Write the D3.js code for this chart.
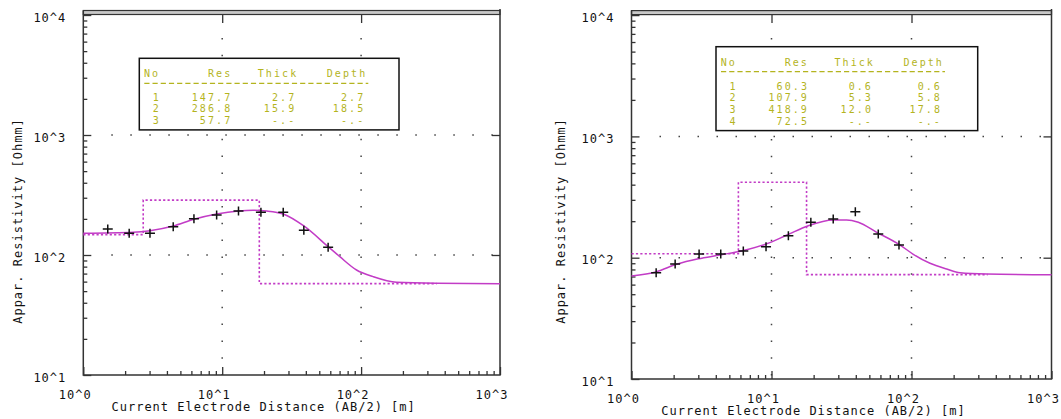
<!DOCTYPE html>
<meta charset="utf-8">
<script src="https://d3js.org/d3.v7.min.js"></script>
<style>
  body { margin: 0; background: #fff; }
  svg text { font-family: "DejaVu Sans Mono", "Liberation Mono", monospace; font-size: 12px; letter-spacing: 1px; }
  svg text.tbl { font-size: 10px; letter-spacing: 2.1px; }
</style>
<div id="chart"></div>
<script>

  // sounding 1 - measured points
  var ab1  = [1.5, 2.14, 3.02, 4.44, 6.26, 9.12, 13.1, 19.0, 27.5, 38.7, 57.9];
  var rho1 = [164.7, 151.6, 151.6, 172, 200.7, 215, 232.6, 227, 227, 160.6, 115.9];
  // sounding 1 - calculated curve
  var curveAb1  = [1, 2.29, 3.02, 4.44, 6.26, 9.12, 13.1, 16.7, 20.9, 27.5, 38.7, 57.9, 70.3, 92.7, 122, 180, 349, 1000];
  var curveRho1 = [151.6, 154.6, 159.4, 174.5, 198.4, 219.6, 232.6, 235.8, 232.6, 219.6, 174.5, 117.3, 96.8, 75, 66, 59.2, 58.1, 57.7];
  // sounding 1 - layer model
  var res1   = [147.7, 286.8, 57.7];
  var thick1 = ["2.7", "15.9", "-.-"];
  var depth1 = [2.7, 18.5];
  var modelEnd1 = 350;

  // sounding 2 - measured points
  var ab2  = [1.5, 2.05, 3.04, 4.34, 6.29, 9.14, 13.2, 19.1, 27.6, 39.7, 57.9, 81.4];
  var rho2 = [75.2, 88.7, 107.3, 107.3, 113.6, 123.2, 151.9, 195.8, 208.5, 239.4, 156.8, 127.2];
  // sounding 2 - calculated curve
  var curveAb2  = [1, 1.51, 2.1, 3.0, 4.29, 6.29, 8.97, 12.9, 18.3, 27.6, 34.4, 41.7, 56.4, 82.8, 103, 135.6, 178.3, 222, 344, 1000];
  var curveRho2 = [70.6, 76.7, 88.3, 97.9, 105.3, 114.6, 128.5, 153.8, 183.6, 204.6, 204.6, 195.7, 162, 127.2, 106.7, 89.9, 80.7, 75.2, 73.4, 72.5];
  // sounding 2 - layer model
  var res2   = [60.3, 107.9, 418.9, 72.5];
  var thick2 = ["0.6", "5.3", "12.0", "-.-"];
  var depth2 = [0.6, 5.8, 17.8];
  var modelEnd2 = 350;

  // axis tick labels
  var xMajor = [1, 10, 100, 1000];
  var yMajor = [10, 100, 1000, 10000];
  var xLabels = ["10^0", "10^1", "10^2", "10^3"];
  var yLabels = ["10^1", "10^2", "10^3", "10^4"];
  var tableHead = ["No", "Res", "Thick", "Depth"];

  var magenta = "#c23cc6", olive = "#b4b41e", axisCol = "#333";

  var svg = d3.select("#chart").append("svg")
      .attr("width", 1061)
      .attr("height", 419);

  var panels = [
    { ab: ab1, rho: rho1, cab: curveAb1, crho: curveRho1, res: res1, thick: thick1, depth: depth1, end: modelEnd1,
      xr: [83.3, 500], yr: [375, 15], yLab: 18, box: {x: 139.3, y: 58.3, w: 259.7, head: 77, dash: 83.3, row0: 100.5} },
    { ab: ab2, rho: rho2, cab: curveAb2, crho: curveRho2, res: res2, thick: thick2, depth: depth2, end: modelEnd2,
      xr: [631.5, 1051.5], yr: [379, 15.1], yLab: 561, box: {x: 716, y: 46.7, w: 261.7, head: 65.7, dash: 71.7, row0: 89.5} }
  ];

  function minors(lo, hi) {
    var out = [];
    for (var d = lo; d < hi; d *= 10)
      for (var k = 2; k <= 9; k++) out.push(d * k);
    return out;
  }

  panels.forEach(function(p) {
    var x = d3.scaleLog().domain([1, 1000]).range(p.xr);
    var y = d3.scaleLog().domain([10, 10000]).range(p.yr);
    var x0 = p.xr[0], x1 = p.xr[1], top = p.yr[1], bot = p.yr[0];
    var g = svg.append("g");

    // dotted grid at the inner decades
    [10, 100].forEach(function(v) {
      g.append("line")
        .attr("x1", x(v)).attr("x2", x(v)).attr("y1", top + 23).attr("y2", bot)
        .attr("stroke", "#444").attr("stroke-width", 1.5)
        .attr("stroke-dasharray", "1.5,15.3");
    });
    [100, 1000].forEach(function(v) {
      g.append("line")
        .attr("x1", x0 + 28).attr("x2", x1).attr("y1", y(v)).attr("y2", y(v))
        .attr("stroke", "#444").attr("stroke-width", 1.5)
        .attr("stroke-dasharray", "1.5,17.5");
    });

    // axes (ticks pointing inward)
    var bottomAx = g.append("g").attr("transform", "translate(0," + bot + ")")
      .call(d3.axisBottom(x).tickValues(xMajor).tickSize(-8).tickPadding(15)
        .tickFormat(function(d, i) { return xLabels[i]; }));
    bottomAx.selectAll("text").attr("dx", -8.5).attr("fill", "#111");
    g.append("g").attr("transform", "translate(0," + bot + ")")
      .call(d3.axisBottom(x).tickValues(minors(1, 1000)).tickSize(-4).tickFormat(""));

    var leftAx = g.append("g").attr("transform", "translate(" + x0 + ",0)")
      .call(d3.axisLeft(y).tickValues(yMajor).tickSize(-8).tickPadding(17)
        .tickFormat(function(d, i) { return yLabels[i]; }));
    leftAx.selectAll("text").attr("dy", "0.5em").attr("fill", "#111");
    g.append("g").attr("transform", "translate(" + x0 + ",0)")
      .call(d3.axisLeft(y).tickValues(minors(10, 10000)).tickSize(-4).tickFormat(""));

    g.append("g").attr("transform", "translate(0," + top + ")")
      .call(d3.axisTop(x).tickValues([10, 100]).tickSize(-8).tickFormat(""));
    g.append("g").attr("transform", "translate(" + x1 + ",0)")
      .call(d3.axisRight(y).tickValues([100, 1000]).tickSize(-8).tickFormat(""));

    g.selectAll(".domain").remove();
    g.selectAll(".tick line").attr("stroke", axisCol).attr("stroke-width", 1.3);
    g.selectAll(".tick text").style("font-size", "12px");

    // frame
    g.append("rect")
      .attr("x", x0).attr("y", top - 4.5).attr("width", x1 - x0).attr("height", 4)
      .attr("fill", "#c8c8c8").attr("stroke", axisCol).attr("stroke-width", 1.2);
    g.append("path")
      .attr("d", "M" + x0 + "," + (top - 4.5) + "V" + bot + "H" + x1 + "V" + (top - 6))
      .attr("fill", "none").attr("stroke", axisCol).attr("stroke-width", 1.5);

    // axis titles
    g.append("text")
      .attr("x", (x0 + x1) / 2 - 28).attr("y", bot + 36)
      .attr("text-anchor", "middle").attr("fill", "#111")
      .text("Current Electrode Distance (AB/2) [m]");
    g.append("text")
      .attr("transform", "translate(" + (p.yLab + 4) + "," + 221 + ")rotate(-90)")
      .attr("text-anchor", "middle").attr("fill", "#111")
      .text("Appar. Resistivity [Ohmm]");

    // layer table
    var b = p.box, n = p.res.length, rowH = 11.7;
    var boxH = (b.row0 - b.y) + (n - 1) * rowH + 6;
    g.append("rect")
      .attr("x", b.x).attr("y", b.y).attr("width", b.w).attr("height", boxH)
      .attr("fill", "#fff").attr("stroke", "#111").attr("stroke-width", 1.5);
    var colEnd = [null, 91, 157, 226];
    tableHead.forEach(function(h, i) {
      g.append("text").attr("class", "tbl")
        .attr("x", i === 0 ? b.x + 4.7 : b.x + colEnd[i] + 2)
        .attr("y", b.head)
        .attr("text-anchor", i === 0 ? "start" : "end")
        .attr("fill", olive).text(h);
    });
    g.append("line")
      .attr("x1", b.x + 5).attr("x2", b.x + 229)
      .attr("y1", b.dash).attr("y2", b.dash)
      .attr("stroke", olive).attr("stroke-width", 1.3)
      .attr("stroke-dasharray", "5.2,3");
    p.res.forEach(function(r, i) {
      var yy = b.row0 + i * rowH;
      var dep = i < p.depth.length ? p.depth[i].toFixed(1) : "-.-";
      var cells = [String(i + 1), r.toFixed(1), p.thick[i], dep];
      cells.forEach(function(c, j) {
        g.append("text").attr("class", "tbl")
          .attr("x", j === 0 ? b.x + 13.5 : b.x + colEnd[j] - (j === 1 ? 0 : 2) + 2)
          .attr("y", yy)
          .attr("text-anchor", j === 0 ? "start" : "end")
          .attr("fill", olive).text(c);
      });
    });

    // layer model (dotted step)
    var pts = [], xs = 1;
    p.res.forEach(function(r, i) {
      var xe = i < p.depth.length ? p.depth[i] : p.end;
      if (xe <= 1) return;
      if (pts.length) pts.push([xs, r]);
      pts.push([Math.max(xs, 1), r], [xe, r]);
      xs = xe;
    });
    g.append("path")
      .attr("d", d3.line().x(function(d) { return x(d[0]); }).y(function(d) { return y(d[1]); })(pts))
      .attr("fill", "none").attr("stroke", magenta).attr("stroke-width", 1.6)
      .attr("stroke-dasharray", "2.2,2.2");

    // calculated curve
    var cdata = p.cab.map(function(v, i) { return [v, p.crho[i]]; });
    g.append("path")
      .attr("d", d3.line().curve(d3.curveMonotoneX)
        .x(function(d) { return x(d[0]); }).y(function(d) { return y(d[1]); })(cdata))
      .attr("fill", "none").attr("stroke", magenta).attr("stroke-width", 1.5);

    // measured data
    g.selectAll(".obs")
      .data(p.ab.map(function(v, i) { return [v, p.rho[i]]; }))
      .enter()
      .append("path")
        .attr("transform", function(d) { return "translate(" + x(d[0]) + "," + y(d[1]) + ")"; })
        .attr("d", "M-5,0H5M0,-4.5V4.5")
        .attr("stroke", "#111").attr("stroke-width", 1.5);
  });

</script>
